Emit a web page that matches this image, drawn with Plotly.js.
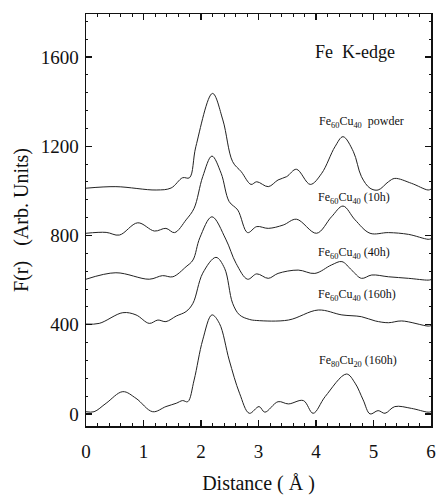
<!DOCTYPE html>
<html>
<head>
<meta charset="utf-8">
<script src="https://cdn.plot.ly/plotly-3.0.1.min.js"></script>
<style>html,body{margin:0;padding:0;background:#fff;}#chart{width:438px;height:496px;}</style>
</head>
<body>
<div id="chart"></div>
<script>
// Distance (Å) and F(r) values
const powderX = [0, 0.52, 1.22, 1.48, 1.68, 1.80, 1.91, 2.20, 2.38, 2.55, 2.70, 2.87, 2.97, 3.17, 3.34, 3.49, 3.66, 3.90, 4.10, 4.33, 4.47, 4.65, 4.79, 4.94, 5.08, 5.26, 5.37, 5.66, 5.95, 6.0];
const powderY = [1012, 1019, 1004, 1013, 1059, 1059, 1198, 1437, 1318, 1131, 1086, 1029, 1041, 1019, 1049, 1064, 1097, 1029, 1079, 1198, 1243, 1176, 1064, 1012, 1004, 1041, 1056, 1034, 1004, 1008];

const h10X = [0, 0.35, 0.58, 0.90, 1.19, 1.39, 1.54, 1.74, 1.88, 2.03, 2.19, 2.35, 2.49, 2.64, 2.81, 2.97, 3.17, 3.43, 3.66, 4.01, 4.27, 4.47, 4.68, 4.94, 5.26, 5.61, 5.95, 6.0];
const h10Y = [810, 814, 802, 857, 820, 832, 813, 870, 922, 1064, 1156, 1079, 952, 914, 813, 840, 832, 847, 873, 810, 884, 932, 870, 810, 813, 805, 783, 785];

const h40X = [0, 0.52, 1.10, 1.33, 1.51, 1.74, 1.86, 1.98, 2.19, 2.43, 2.61, 2.81, 2.97, 3.17, 3.34, 3.69, 3.98, 4.27, 4.45, 4.62, 4.79, 4.97, 5.26, 5.61, 5.95, 6.0];
const h40Y = [604, 633, 604, 620, 615, 660, 690, 790, 884, 784, 675, 604, 628, 608, 630, 645, 630, 668, 683, 645, 608, 623, 615, 608, 600, 602];

const h160X = [0, 0.23, 0.64, 0.87, 1.10, 1.25, 1.39, 1.57, 1.74, 1.86, 2.03, 2.26, 2.41, 2.55, 2.67, 2.84, 2.97, 3.52, 4.04, 4.45, 4.79, 5.03, 5.26, 5.49, 5.95, 6.0];
const h160Y = [403, 406, 454, 444, 406, 421, 414, 439, 459, 496, 631, 702, 653, 496, 444, 424, 419, 421, 466, 444, 436, 417, 409, 417, 394, 396];

const fe80X = [0, 0.14, 0.35, 0.64, 0.87, 1.16, 1.39, 1.57, 1.68, 1.77, 1.88, 2.03, 2.19, 2.32, 2.49, 2.67, 2.84, 3.01, 3.11, 3.34, 3.52, 3.78, 3.95, 4.16, 4.53, 4.68, 4.82, 4.94, 5.08, 5.20, 5.37, 5.66, 5.95, 6.0];
const fe80Y = [10, 10, 48, 100, 70, 10, 33, 48, 60, 55, 152, 332, 444, 406, 242, 93, 3, 33, 8, 55, 45, 60, 3, 78, 179, 138, 63, 0, 15, 3, 33, 25, 8, 10];

const labels = ["Fe<sub>60</sub>Cu<sub>40</sub>\u00a0 powder", "Fe<sub>60</sub>Cu<sub>40</sub> (10h)", "Fe<sub>60</sub>Cu<sub>40</sub> (40h)", "Fe<sub>60</sub>Cu<sub>40</sub> (160h)", "Fe<sub>80</sub>Cu<sub>20</sub> (160h)"];
const xTickVals = [0, 1, 2, 3, 4, 5, 6];
const yTickVals = [0, 400, 800, 1200, 1600];

const serif = "Liberation Serif";
const series = [[powderX, powderY], [h10X, h10Y], [h40X, h40Y], [h160X, h160Y], [fe80X, fe80Y]];
const traces = series.map((s, i) => ({
  x: s[0], y: s[1], type: 'scatter', mode: 'lines', name: labels[i],
  line: {color: '#222', width: 1, shape: 'spline', smoothing: 1},
  hoverinfo: 'skip'
}));

const labelPos = [[4.02, 1309], [4.0, 968], [4.0, 722], [4.0, 533], [4.02, 238]];
const annotations = labels.map((t, i) => ({
  x: labelPos[i][0], y: labelPos[i][1], xref: 'x', yref: 'y', text: t,
  showarrow: false, xanchor: 'left', yanchor: 'middle',
  font: {family: serif, size: 12, color: '#111'}
}));
annotations.push({
  x: 3.95, y: 1622, xref: 'x', yref: 'y', text: 'Fe\u00a0 K-edge', showarrow: false,
  xanchor: 'left', yanchor: 'middle', font: {family: serif, size: 18, color: '#111'}
});

const layout = {
  width: 438, height: 496,
  margin: {l: 86, r: 7, t: 14, b: 70},
  paper_bgcolor: '#fff', plot_bgcolor: '#fff',
  showlegend: false,
  font: {family: serif, color: '#111'},
  xaxis: {
    range: [0, 6], tickvals: xTickVals, ticktext: xTickVals.map(String),
    showgrid: false, zeroline: false, showline: true, linecolor: '#111', linewidth: 1.5,
    mirror: 'allticks', ticks: 'inside', ticklen: 6, tickwidth: 1.2, tickcolor: '#111',
    minor: {ticks: 'inside', dtick: 0.2, ticklen: 3, tickwidth: 1, tickcolor: '#111'},
    tickfont: {family: serif, size: 19, color: '#111'},
    ticklabelstandoff: 8,
    title: {text: 'Distance ( Å )', font: {family: serif, size: 20, color: '#111'}, standoff: 14}
  },
  yaxis: {
    range: [-54, 1793], tickvals: yTickVals, ticktext: yTickVals.map(String),
    showgrid: false, zeroline: false, showline: true, linecolor: '#111', linewidth: 1.5,
    mirror: 'allticks', ticks: 'inside', ticklen: 6, tickwidth: 1.2, tickcolor: '#111',
    minor: {ticks: 'inside', dtick: 80, ticklen: 2, tickwidth: 1, tickcolor: '#111'},
    tickfont: {family: serif, size: 19, color: '#111'},
    ticklabelstandoff: 2,
    title: {text: 'F(r)\u00a0\u00a0 (Arb. Units)', font: {family: serif, size: 20, color: '#111'}, standoff: 6}
  },
  annotations: annotations
};

Plotly.newPlot('chart', traces, layout, {staticPlot: true, displayModeBar: false});
</script>
</body>
</html>
